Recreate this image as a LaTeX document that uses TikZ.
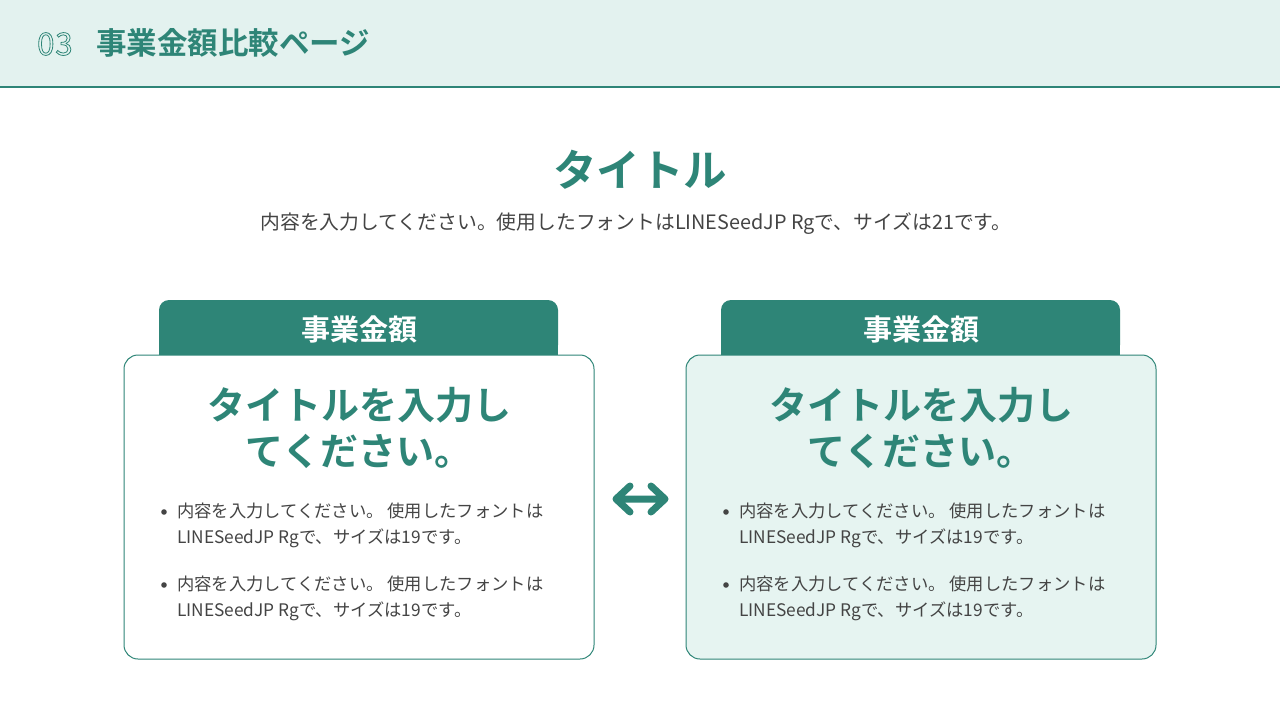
\documentclass[tikz,border=0pt]{standalone}
\usepackage{fontspec}
\setmainfont{Noto Sans CJK JP}
\newfontfamily\jpb{Noto Sans CJK JP Bold}
\definecolor{teal1}{HTML}{2E8577}
\definecolor{hdrbg}{HTML}{E3F2EF}
\definecolor{boxbg}{HTML}{E6F4F1}
\definecolor{txt}{HTML}{444444}
\tikzset{
  tab/.style={fill=teal1,rounded corners=10pt},
  card/.style={draw=teal1,line width=1pt,rounded corners=14pt},
  bul/.style={anchor=west,text=txt,font=\fontsize{17.3}{26}\selectfont,align=left,inner sep=0pt},
  bigt/.style={text=teal1,font=\jpb\fontsize{38}{46}\selectfont,align=center},
}
\begin{document}
\begin{tikzpicture}[x=1pt,y=-1pt]
\useasboundingbox (0,0) rectangle (1280,720);
\fill[white] (0,0) rectangle (1280,720);
\fill[hdrbg] (0,0) rectangle (1280,87);
\draw[teal1,line width=1.2pt] (0,87) -- (1280,87);
\node[anchor=west,text=teal1,font=\fontsize{31}{34}\selectfont,inner sep=0pt] (num) at (37,44) {\special{pdf:literal 1 Tr 0.8 w}0\kern1pt3\special{pdf:literal 0 Tr}};
\node[anchor=west,text=teal1,font=\jpb\fontsize{30.5}{34}\selectfont,inner sep=0pt] (hdr) at (96,43) {事業金額比較ページ};
\node[text=teal1,font=\jpb\fontsize{43.5}{48}\selectfont] (title) at (640,170) {タイトル};
\node[text=txt,font=\fontsize{19.8}{24}\selectfont] (sub) at (636,224) {内容を入力してください。使用したフォントはLINESeedJP Rgで、サイズは21です。};
\foreach \x/\f/\n in {124/white/L,686/boxbg/R}{
  \fill[tab] (\x+35,355) -- (\x+35,300) -- (\x+434,300) -- (\x+434,355) -- cycle;
  \fill[teal1] (\x+35,340) rectangle (\x+434,356);
  \node[text=white,font=\jpb\fontsize{29}{32}\selectfont] (tab\n) at (\x+235,329) {事業金額};
  \filldraw[card,fill=\f] (\x,355) rectangle (\x+470,659);
  \node[bigt] (head\n) at (\x+235,428) {タイトルを入力し\\てください。};
  \fill[txt] (\x+40,512) circle (2.8);
  \node[bul] (b1\n) at (\x+53,525) {内容を入力してください。 使用したフォントは\\LINESeedJP Rgで、サイズは19です。};
  \fill[txt] (\x+40,585) circle (2.8);
  \node[bul] (b2\n) at (\x+53,598) {内容を入力してください。 使用したフォントは\\LINESeedJP Rgで、サイズは19です。};
}
\coordinate (al) at (616,499);
\coordinate (ar) at (665,499);
\draw[teal1,line width=7pt,line cap=round,line join=round] (al) -- (ar)
  (al) ++(14,-13) -- (al) -- ++(14,13)
  (ar) ++(-14,-13) -- (ar) -- ++(-14,13);
\end{tikzpicture}
\end{document}
